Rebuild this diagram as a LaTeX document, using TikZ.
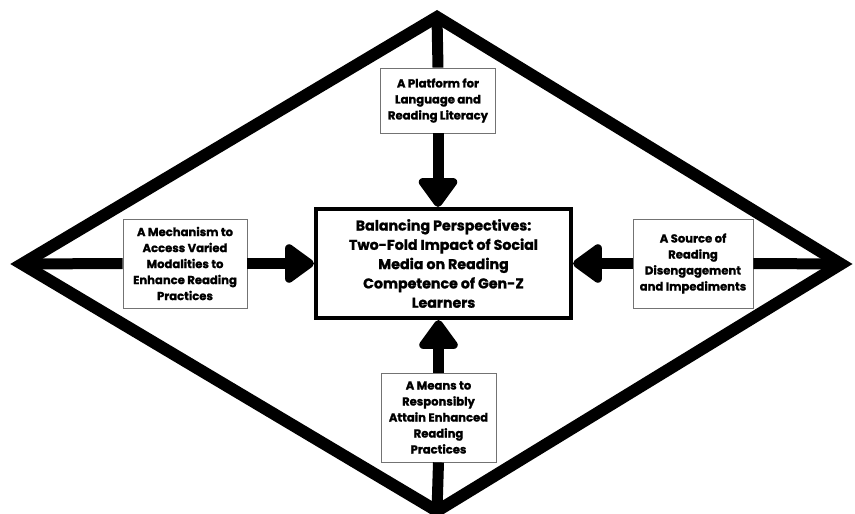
\documentclass[tikz,border=0pt]{standalone}
\usepackage{fontspec}
\setmainfont{Poppins}[BoldFeatures={FakeBold=1.2}]
\usetikzlibrary{arrows.meta}
\tikzset{
  sidebox/.style={draw=black!55, line width=0.8pt, fill=white, align=center, inner sep=0pt,
    font=\bfseries\fontsize{11.6}{16}\selectfont},
  mainbox/.style={draw=black, line width=4pt, fill=white, align=center, inner sep=0pt,
    minimum width=255pt, minimum height=109pt, font=\bfseries\fontsize{14.2}{19.3}\selectfont},
  spoke/.style={line width=11pt},
  push/.style={line width=11pt, -{Triangle[length=32pt,width=44pt,round]}}
}
\begin{document}
\begin{tikzpicture}[x=1pt,y=-1pt]
	\useasboundingbox (0,0) rectangle (855,514);
	\coordinate (vt) at (437,17);
	\coordinate (vl) at (22,264);
	\coordinate (vr) at (841,264);
	\coordinate (vb) at (437,511);
	\draw[line width=12pt, miter limit=10] (vt) -- (vr) -- (vb) -- (vl) -- cycle;
	\node[mainbox] (core) at (443.5,263.5) {Balancing Perspectives:\\Two-Fold Impact of Social\\Media on Reading\\Competence of Gen-Z\\Learners};
	\node[sidebox, minimum width=115pt, minimum height=65pt] (up) at (438,100.5) {A Platform for\\Language and\\Reading Literacy};
	\node[sidebox, minimum width=124pt, minimum height=89pt] (west) at (185,263.5) {A Mechanism to\\Access Varied\\Modalities to\\Enhance Reading\\Practices};
	\node[sidebox, minimum width=120pt, minimum height=89pt] (east) at (693,263.5) {A Source of\\Reading\\Disengagement\\and Impediments};
	\node[sidebox, minimum width=115pt, minimum height=89pt] (down) at (438.5,417.5) {A Means to\\Responsibly\\Attain Enhanced\\Reading\\Practices};
	\draw[spoke] (vt) -- (up.north);
	\draw[spoke] (vb) -- (down.south);
	\draw[spoke] (vl) -- (west.west);
	\draw[spoke] (vr) -- (east.east);
	\draw[push] (up.south) -- (up.south |- core.north);
	\draw[push] (down.north) -- (down.north |- core.south);
	\draw[push] (west.east) -- (core.west);
	\draw[push] (east.west) -- (core.east);
\end{tikzpicture}
\end{document}
